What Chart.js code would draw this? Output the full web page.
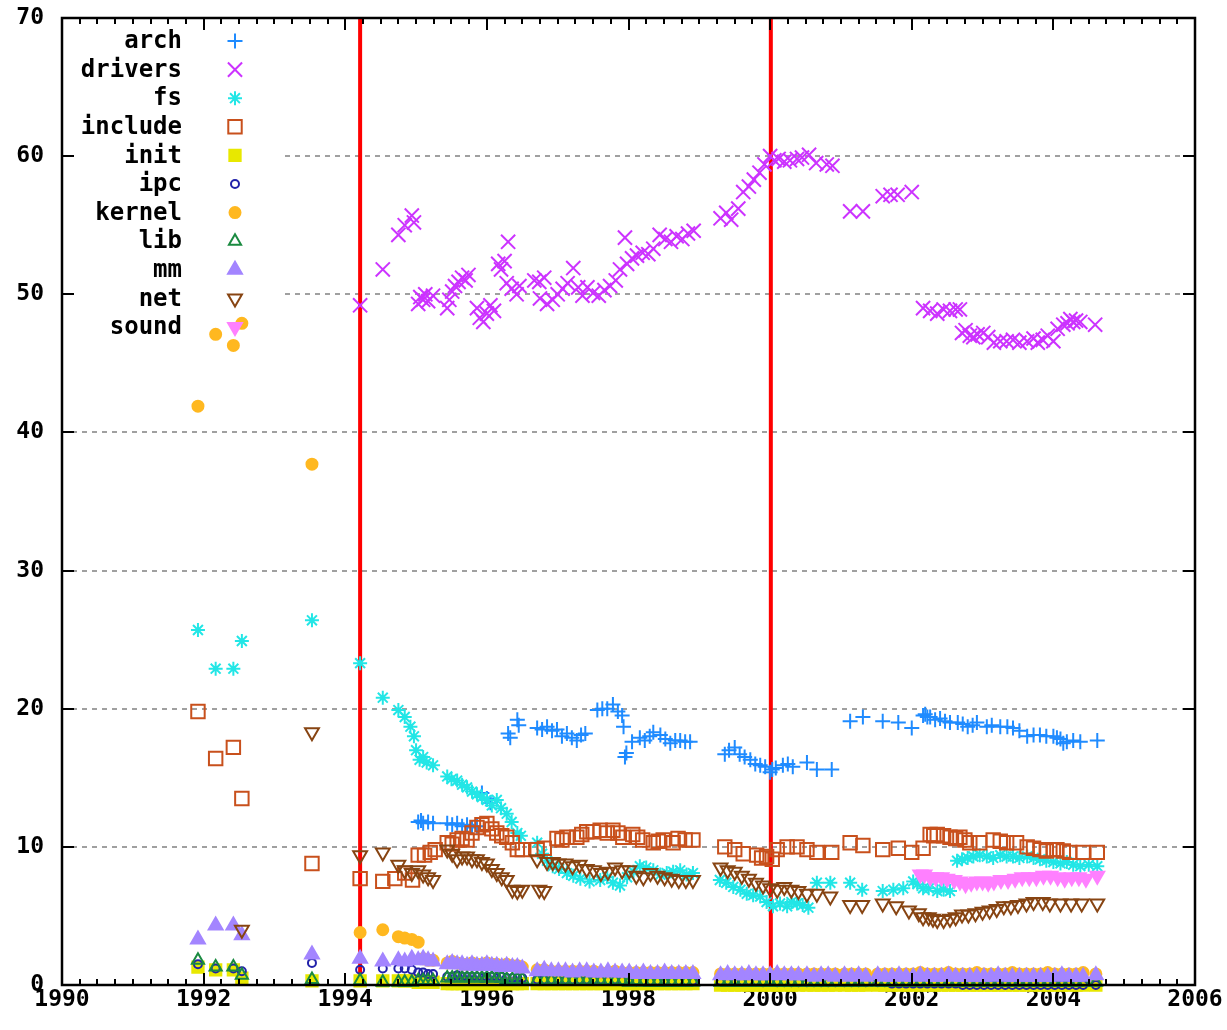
<!DOCTYPE html>
<html>
<head>
<meta charset="utf-8">
<script src="https://cdn.jsdelivr.net/npm/chart.js@4.4.1/dist/chart.umd.min.js"></script>
<style>
html, body { margin: 0; padding: 0; background: #fff; }
</style>
</head>
<body>
<canvas id="linuxChart" width="1227" height="1030"></canvas>
<script>
// release dates shared by the small directories
var baseDates = [
  1991.92, 1992.17, 1992.42, 1992.54, 1993.53,
  1994.21, 1994.53, 1994.75, 1994.84, 1994.94, 1995.03, 1995.10, 1995.17, 1995.24,
  1995.44, 1995.51, 1995.58, 1995.65, 1995.72, 1995.79, 1995.86, 1995.93, 1996.00, 1996.07, 1996.14, 1996.21, 1996.28, 1996.36, 1996.43, 1996.50,
  1996.71, 1996.81, 1996.91, 1997.01, 1997.11, 1997.21, 1997.31, 1997.41, 1997.51, 1997.61, 1997.71, 1997.81, 1997.91, 1998.01, 1998.11, 1998.21, 1998.31, 1998.41, 1998.51, 1998.61, 1998.71, 1998.81, 1998.91,
  1999.30, 1999.40, 1999.50, 1999.60, 1999.70, 1999.80, 1999.90, 2000.00, 2000.10, 2000.20, 2000.30, 2000.40, 2000.52, 2000.62, 2000.72, 2000.82, 2000.92,
  2001.05, 2001.15, 2001.25, 2001.35, 2001.52, 2001.62, 2001.72, 2001.82, 2001.92,
  2002.02, 2002.12, 2002.22, 2002.32, 2002.42, 2002.52, 2002.62, 2002.72, 2002.82, 2002.92, 2003.02, 2003.12, 2003.22, 2003.32, 2003.42, 2003.52, 2003.62, 2003.72, 2003.82, 2003.92, 2004.02, 2004.12, 2004.22, 2004.32, 2004.42, 2004.60
];

var initVals = [
  1.3, 1.1, 1.1, 0.5, 0.3,
  0.3, 0.3, 0.3, 0.3, 0.3, 0.2, 0.2, 0.2, 0.2,
  0.1, 0.1, 0.1, 0.1, 0.1, 0.1, 0.1, 0.1, 0.1, 0.1, 0.1, 0.1, 0.1, 0.1, 0.1, 0.1,
  0.1, 0.1, 0.1, 0.1, 0.1, 0.1, 0.1, 0.1, 0.1, 0.1, 0.1, 0.1, 0.1, 0.1, 0.1, 0.1, 0.1, 0.1, 0.1, 0.1, 0.1, 0.1, 0.1,
  0.0, 0.0, 0.0, 0.0, 0.0, 0.0, 0.0, 0.0, 0.0, 0.0, 0.0, 0.0, 0.0, 0.0, 0.0, 0.0, 0.0,
  0.0, 0.0, 0.0, 0.0, 0.0, 0.0, 0.0, 0.0, 0.0,
  0.0, 0.0, 0.0, 0.0, 0.0, 0.0, 0.0, 0.0, 0.0, 0.0, 0.0, 0.0, 0.0, 0.0, 0.0, 0.0, 0.0, 0.0, 0.0, 0.0, 0.0, 0.0, 0.0, 0.0, 0.0, 0.0
];
var ipcVals = [
  1.5, 1.2, 1.2, 1.0, 1.6,
  1.1, 1.2, 1.2, 1.2, 1.1, 0.9, 0.9, 0.8, 0.8,
  0.6, 0.6, 0.7, 0.6, 0.6, 0.6, 0.6, 0.5, 0.6, 0.6, 0.5, 0.6, 0.5, 0.5, 0.5, 0.5,
  0.4, 0.4, 0.4, 0.4, 0.4, 0.4, 0.4, 0.4, 0.4, 0.4, 0.3, 0.4, 0.3, 0.3, 0.3, 0.3, 0.3, 0.3, 0.3, 0.3, 0.3, 0.3, 0.3,
  0.3, 0.3, 0.3, 0.3, 0.3, 0.3, 0.2, 0.3, 0.2, 0.2, 0.2, 0.2, 0.2, 0.2, 0.2, 0.2, 0.2,
  0.2, 0.2, 0.2, 0.2, 0.2, 0.2, 0.1, 0.1, 0.1,
  0.1, 0.1, 0.1, 0.1, 0.1, 0.1, 0.1, 0.0, 0.0, 0.0, 0.0, 0.0, 0.0, 0.0, 0.0, 0.0, 0.0, 0.0, 0.0, 0.0, 0.0, 0.0, 0.0, 0.0, 0.0, 0.0
];
var kernelVals = [
  41.9, 47.1, 46.3, 47.9, 37.7,
  3.8, 4.0, 3.5, 3.4, 3.3, 3.1, 1.9, 1.8, 1.8,
  1.6, 1.7, 1.6, 1.5, 1.5, 1.6, 1.5, 1.5, 1.6, 1.5, 1.5, 1.4, 1.5, 1.4, 1.4, 1.3,
  1.1, 1.1, 1.0, 1.0, 1.0, 1.0, 1.0, 1.0, 1.0, 0.9, 0.9, 1.0, 0.9, 0.9, 0.9, 0.9, 0.9, 0.9, 0.9, 0.9, 0.9, 0.9, 0.9,
  0.8, 0.8, 0.8, 0.8, 0.8, 0.8, 0.8, 0.8, 0.8, 0.8, 0.8, 0.8, 0.8, 0.8, 0.8, 0.8, 0.8,
  0.8, 0.8, 0.8, 0.8, 0.8, 0.8, 0.8, 0.8, 0.8,
  0.8, 0.9, 0.8, 0.8, 0.8, 0.9, 0.8, 0.8, 0.8, 0.9, 0.8, 0.8, 0.8, 0.8, 0.9, 0.8, 0.8, 0.8, 0.8, 0.9, 0.8, 0.8, 0.8, 0.8, 0.9, 0.8
];
var libVals = [
  1.8, 1.3, 1.3, 0.7, 0.4,
  0.3, 0.2, 0.2, 0.2, 0.2, 0.3, 0.3, 0.3, 0.3,
  0.5, 0.5, 0.5, 0.5, 0.5, 0.5, 0.5, 0.5, 0.5, 0.5, 0.5, 0.5, 0.4, 0.4, 0.4, 0.4,
  0.3, 0.3, 0.3, 0.3, 0.3, 0.3, 0.3, 0.3, 0.3, 0.3, 0.3, 0.3, 0.3, 0.2, 0.3, 0.2, 0.2, 0.2, 0.2, 0.2, 0.2, 0.2, 0.2,
  0.2, 0.2, 0.2, 0.2, 0.2, 0.2, 0.2, 0.2, 0.2, 0.2, 0.2, 0.2, 0.2, 0.2, 0.2, 0.2, 0.2,
  0.2, 0.2, 0.2, 0.2, 0.2, 0.2, 0.2, 0.2, 0.2,
  0.2, 0.2, 0.2, 0.2, 0.2, 0.2, 0.2, 0.2, 0.2, 0.2, 0.2, 0.2, 0.2, 0.2, 0.2, 0.2, 0.2, 0.2, 0.2, 0.2, 0.2, 0.2, 0.2, 0.2, 0.2, 0.2
];
var mmVals = [
  3.3, 4.3, 4.3, 3.6, 2.2,
  1.9, 1.7, 1.8, 1.7, 1.9, 1.8, 1.9, 1.8, 1.7,
  1.5, 1.6, 1.5, 1.5, 1.4, 1.5, 1.4, 1.4, 1.5, 1.4, 1.4, 1.3, 1.4, 1.3, 1.3, 1.2,
  1.0, 1.1, 1.0, 1.0, 1.0, 0.9, 1.0, 1.0, 0.9, 0.9, 1.0, 0.9, 0.9, 0.9, 0.8, 0.9, 0.8, 0.8, 0.9, 0.8, 0.8, 0.8, 0.8,
  0.7, 0.8, 0.7, 0.7, 0.8, 0.7, 0.7, 0.7, 0.8, 0.7, 0.7, 0.7, 0.7, 0.6, 0.7, 0.7, 0.6,
  0.7, 0.6, 0.7, 0.6, 0.7, 0.6, 0.6, 0.7, 0.6,
  0.6, 0.7, 0.6, 0.6, 0.6, 0.7, 0.6, 0.6, 0.6, 0.6, 0.6, 0.6, 0.7, 0.6, 0.6, 0.6, 0.6, 0.6, 0.6, 0.6, 0.6, 0.7, 0.6, 0.6, 0.6, 0.7
];

// [year, percent] for the big directories
var archPts = [
  [1995.03,11.8],[1995.07,11.9],[1995.10,11.7],[1995.17,11.8],[1995.24,11.7],
  [1995.44,11.7],[1995.51,11.6],[1995.58,11.7],[1995.65,11.5],[1995.72,11.6],[1995.79,11.4],[1995.86,11.5],[1995.93,13.9],[1996.00,13.5],[1996.05,13.2],
  [1996.30,18.2],[1996.33,17.9],[1996.43,19.2],[1996.45,18.8],
  [1996.71,18.6],[1996.78,18.5],[1996.85,18.7],[1996.92,18.4],[1996.99,18.5],[1997.06,18.0],[1997.13,18.2],[1997.20,17.9],[1997.27,17.7],[1997.33,18.1],[1997.39,18.2],
  [1997.56,19.9],[1997.63,20.0],[1997.70,20.0],[1997.78,20.3],[1997.85,19.8],[1997.91,19.5],[1997.93,18.7],[1997.95,16.5],[1997.97,16.8],[1998.05,17.6],[1998.16,17.9],[1998.23,17.7],[1998.30,18.0],[1998.35,18.3],[1998.45,18.1],[1998.52,17.8],[1998.59,17.5],[1998.66,17.7],[1998.73,17.7],[1998.80,17.6],[1998.87,17.6],
  [1999.36,16.7],[1999.42,17.0],[1999.50,17.2],[1999.57,16.7],[1999.64,16.5],[1999.72,16.3],[1999.79,16.0],[1999.86,15.9],[1999.93,15.8],[2000.00,15.4],[2000.03,15.6],[2000.08,15.7],[2000.18,15.9],[2000.25,16.0],[2000.32,15.8],[2000.52,16.1],[2000.66,15.6],[2000.87,15.6],
  [2001.13,19.1],[2001.31,19.4],[2001.59,19.1],[2001.81,19.0],[2002.00,18.6],
  [2002.16,19.5],[2002.19,19.6],[2002.22,19.4],[2002.26,19.4],[2002.33,19.2],[2002.40,19.3],[2002.47,19.1],[2002.54,19.0],[2002.65,19.0],[2002.72,18.9],[2002.79,18.7],[2002.86,18.8],[2002.92,19.0],[2003.06,18.7],[2003.13,18.8],[2003.25,18.7],[2003.35,18.7],[2003.43,18.6],[2003.52,18.4],[2003.63,18.0],[2003.72,18.1],[2003.81,18.1],[2003.90,18.0],[2004.00,18.0],[2004.05,17.9],[2004.10,17.8],[2004.14,17.5],[2004.19,17.6],[2004.28,17.7],[2004.38,17.6],[2004.62,17.7]
];
var driversPts = [
  [1994.21,49.2],[1994.53,51.8],[1994.75,54.3],[1994.84,55.0],[1994.94,55.7],[1994.97,55.2],
  [1995.03,49.3],[1995.06,49.8],[1995.10,49.6],[1995.13,50.0],[1995.17,49.5],[1995.24,49.9],
  [1995.44,49.0],[1995.47,49.6],[1995.51,50.2],[1995.55,50.6],[1995.60,50.9],[1995.65,51.2],[1995.70,51.0],[1995.74,51.4],
  [1995.86,49.0],[1995.90,48.3],[1995.95,48.0],[1996.00,48.6],[1996.05,49.2],[1996.10,48.8],
  [1996.16,52.2],[1996.20,51.8],[1996.25,52.4],[1996.30,53.8],[1996.28,50.8],[1996.35,50.4],[1996.42,50.0],[1996.46,50.6],
  [1996.67,51.0],[1996.74,50.9],[1996.81,51.2],[1996.75,49.7],[1996.85,49.3],[1996.93,49.6],
  [1997.00,50.0],[1997.07,50.4],[1997.14,50.8],[1997.22,51.9],[1997.29,50.5],[1997.35,49.9],[1997.42,50.5],[1997.50,50.1],[1997.58,49.9],[1997.66,50.3],[1997.74,50.6],[1997.82,51.0],[1997.88,51.8],[1997.95,54.1],[1997.98,52.2],[1998.05,52.6],[1998.12,52.8],[1998.20,53.0],[1998.28,52.9],[1998.35,53.3],[1998.44,54.3],[1998.52,54.0],[1998.60,53.8],[1998.68,54.2],[1998.76,54.0],[1998.84,54.4],[1998.92,54.6],
  [1999.30,55.5],[1999.38,55.9],[1999.45,55.4],[1999.55,56.2],[1999.62,57.4],[1999.70,57.8],[1999.77,58.3],[1999.85,58.8],[1999.92,59.4],[2000.00,60.0],[2000.06,59.7],[2000.12,59.8],[2000.20,59.6],[2000.28,59.7],[2000.38,59.8],[2000.45,59.9],[2000.55,60.1],[2000.65,59.5],[2000.80,59.4],[2000.88,59.3],
  [2001.13,56.0],[2001.31,56.0],[2001.59,57.1],[2001.70,57.2],[2001.80,57.2],[2002.00,57.4],
  [2002.16,49.0],[2002.26,48.8],[2002.36,48.6],[2002.45,48.9],[2002.54,48.8],[2002.62,48.9],[2002.68,48.9],
  [2002.71,47.2],[2002.76,47.4],[2002.82,47.0],[2002.87,46.9],[2002.93,47.1],[2003.01,47.2],[2003.08,46.9],[2003.16,46.5],[2003.25,46.6],[2003.34,46.6],[2003.43,46.7],[2003.52,46.5],[2003.63,46.6],[2003.72,46.8],[2003.78,46.5],[2003.85,46.7],[2003.92,47.0],[2004.00,46.6],[2004.06,47.5],[2004.14,47.8],[2004.20,47.9],[2004.24,48.2],[2004.28,48.0],[2004.32,48.1],[2004.38,48.0],[2004.59,47.8]
];
var fsPts = [
  [1991.92,25.7],[1992.17,22.9],[1992.42,22.9],[1992.54,24.9],[1993.53,26.4],[1994.21,23.3],[1994.53,20.8],[1994.75,19.9],[1994.84,19.4],[1994.92,18.7],[1994.97,18.0],[1995.00,17.0],[1995.05,16.3],[1995.10,16.5],[1995.15,16.1],[1995.24,15.9],
  [1995.44,15.1],[1995.50,14.9],[1995.58,14.8],[1995.65,14.5],[1995.72,14.3],[1995.79,14.0],[1995.86,13.8],[1995.93,13.6],[1996.00,13.4],[1996.07,13.0],[1996.14,13.4],[1996.20,12.8],[1996.28,12.4],[1996.35,11.8],[1996.43,11.0],[1996.48,10.8],
  [1996.71,10.3],[1996.78,9.5],[1996.85,9.0],[1996.93,8.6],[1997.02,8.4],[1997.13,8.1],[1997.22,7.9],[1997.32,7.7],[1997.45,7.5],[1997.60,7.6],[1997.70,7.8],[1997.78,7.4],[1997.88,7.2],[1997.98,7.8],[1998.07,8.2],[1998.16,8.6],[1998.25,8.5],[1998.35,8.3],[1998.45,8.0],[1998.54,8.1],[1998.63,8.2],[1998.73,8.3],[1998.82,8.0],[1998.91,8.1],
  [1999.29,7.6],[1999.38,7.4],[1999.48,7.1],[1999.58,6.9],[1999.67,6.6],[1999.76,6.5],[1999.86,6.4],[1999.95,6.0],[2000.04,5.7],[2000.14,5.9],[2000.24,5.7],[2000.30,6.0],[2000.38,5.9],[2000.46,5.8],[2000.54,5.6],
  [2000.66,7.4],[2000.85,7.4],[2001.13,7.4],[2001.30,6.9],[2001.59,6.8],[2001.74,6.9],[2001.88,7.0],[2002.02,7.5],[2002.08,7.3],[2002.16,7.0],[2002.24,7.0],[2002.36,6.8],[2002.45,6.9],[2002.54,6.8],
  [2002.64,9.0],[2002.71,9.1],[2002.79,9.2],[2002.87,9.3],[2002.96,9.4],[2003.06,9.3],[2003.15,9.2],[2003.25,9.4],[2003.34,9.3],[2003.43,9.3],[2003.52,9.2],[2003.63,9.3],[2003.72,9.2],[2003.81,9.1],[2003.90,9.0],[2004.00,8.9],[2004.10,8.8],[2004.19,8.9],[2004.28,8.7],[2004.38,8.6],[2004.50,8.7],[2004.62,8.6]
];
var includePts = [
  [1991.92,19.8],[1992.17,16.4],[1992.42,17.2],[1992.54,13.5],[1993.53,8.8],[1994.21,7.7],[1994.53,7.5],[1994.70,7.7],[1994.84,8.1],[1994.95,7.6],[1995.03,9.4],[1995.12,9.4],[1995.20,9.6],[1995.27,9.8],
  [1995.44,10.3],[1995.51,10.2],[1995.58,10.5],[1995.65,10.6],[1995.72,10.5],[1995.79,11.0],[1995.86,11.4],[1995.93,11.6],[1996.00,11.7],[1996.07,11.3],[1996.14,11.0],[1996.21,10.8],[1996.28,10.7],[1996.36,10.3],[1996.43,9.8],[1996.50,9.8],
  [1996.71,9.8],[1996.81,9.9],[1996.99,10.6],[1997.06,10.5],[1997.13,10.7],[1997.27,10.7],[1997.34,10.9],[1997.41,11.1],[1997.50,11.1],[1997.60,11.2],[1997.70,11.0],[1997.78,11.2],[1997.85,11.0],[1997.92,10.7],[1998.06,10.9],[1998.13,10.7],[1998.20,10.5],[1998.35,10.3],[1998.42,10.4],[1998.49,10.5],[1998.63,10.3],[1998.70,10.6],[1998.80,10.5],[1998.91,10.5],
  [1999.36,10.0],[1999.50,9.8],[1999.62,9.5],[1999.81,9.4],[1999.88,9.2],[1999.95,9.3],[2000.03,9.1],[2000.10,9.8],[2000.24,10.0],[2000.38,10.0],[2000.52,9.8],[2000.66,9.6],[2000.87,9.6],
  [2001.13,10.3],[2001.31,10.1],[2001.59,9.8],[2001.81,9.9],[2002.00,9.6],[2002.16,9.9],[2002.26,10.9],[2002.31,10.8],[2002.36,10.9],[2002.45,10.8],[2002.54,10.7],[2002.62,10.6],[2002.68,10.7],[2002.75,10.5],[2002.82,10.3],[2002.96,10.3],[2003.15,10.5],[2003.25,10.4],[2003.34,10.3],[2003.48,10.3],[2003.63,10.0],[2003.72,9.9],[2003.81,9.8],[2003.90,9.7],[2004.00,9.8],[2004.05,9.8],[2004.14,9.7],[2004.23,9.6],[2004.42,9.6],[2004.62,9.6]
];
var netPts = [
  [1992.54,4.0],[1993.53,18.3],[1994.21,9.4],[1994.53,9.6],[1994.75,8.7],[1994.84,8.3],[1994.94,8.1],[1995.03,8.3],[1995.10,8.0],[1995.17,7.8],[1995.24,7.6],
  [1995.44,9.8],[1995.51,9.5],[1995.58,9.1],[1995.65,9.3],[1995.72,9.3],[1995.79,9.1],[1995.86,9.1],[1995.93,8.9],[1996.00,8.8],[1996.07,8.4],[1996.14,8.1],[1996.21,7.8],[1996.28,7.6],[1996.36,6.9],[1996.43,6.8],[1996.50,6.9],
  [1996.71,9.1],[1996.74,6.9],[1996.81,6.8],[1996.85,8.9],[1996.93,8.9],[1997.01,8.8],[1997.11,8.8],[1997.21,8.6],[1997.31,8.7],[1997.41,8.4],[1997.51,8.3],[1997.61,8.1],[1997.71,8.2],[1997.81,8.5],[1997.91,8.3],[1998.01,8.3],[1998.11,7.9],[1998.21,7.8],[1998.31,8.1],[1998.41,7.9],[1998.51,7.8],[1998.61,7.7],[1998.71,7.6],[1998.81,7.6],[1998.91,7.6],
  [1999.30,8.5],[1999.40,8.3],[1999.50,8.2],[1999.60,7.9],[1999.70,7.7],[1999.80,7.4],[1999.90,7.2],[2000.00,7.0],[2000.10,6.9],[2000.20,7.1],[2000.30,6.9],[2000.40,6.8],[2000.52,6.6],[2000.66,6.6],[2000.85,6.4],
  [2001.13,5.8],[2001.30,5.8],[2001.59,5.9],[2001.78,5.7],[2001.96,5.4],
  [2002.10,5.2],[2002.16,4.9],[2002.24,4.9],[2002.30,4.8],[2002.36,4.7],[2002.45,4.7],[2002.54,4.8],[2002.62,4.9],[2002.71,5.1],[2002.80,5.1],[2002.90,5.2],[2003.00,5.3],[2003.10,5.4],[2003.20,5.5],[2003.30,5.7],[2003.40,5.7],[2003.50,5.8],[2003.62,5.9],[2003.72,6.0],[2003.85,6.0],[2003.95,5.9],[2004.10,5.9],[2004.25,5.9],[2004.40,5.9],[2004.62,5.9]
];
var soundPts = [
  [2002.12,8.0],[2002.18,8.0],[2002.26,7.8],[2002.34,7.8],[2002.42,7.8],[2002.50,7.7],[2002.60,7.6],[2002.68,7.5],[2002.76,7.3],[2002.84,7.4],[2002.92,7.5],[2003.00,7.5],[2003.08,7.4],[2003.16,7.5],[2003.26,7.6],[2003.36,7.6],[2003.46,7.7],[2003.56,7.8],[2003.66,7.8],[2003.76,7.8],[2003.86,7.9],[2003.96,7.9],[2004.06,7.8],[2004.16,7.7],[2004.26,7.8],[2004.36,7.8],[2004.46,7.7],[2004.62,7.9]
];

// release markers (1.0 and 2.4)
var markerYears = [1994.21, 2000.01];

var monoFont = "'DejaVu Sans Mono', 'Liberation Mono', monospace";

function pairs(pts) {
  return pts.map(p => ({ x: p[0], y: p[1] }));
}
function onBase(vals) {
  return baseDates.map((d, i) => ({ x: d, y: vals[i] }));
}

// name, points, style, fill, line colour, radius, rotation
var seriesDefs = [
  ['arch', pairs(archPts), 'cross', 'rgba(0,0,0,0)', '#1f8bff', 7.5, 0],
  ['drivers', pairs(driversPts), 'crossRot', 'rgba(0,0,0,0)', '#cc33ff', 10, 0],
  ['fs', pairs(fsPts), 'star', 'rgba(0,0,0,0)', '#22e6e6', 7, 0],
  ['include', pairs(includePts), 'rect', 'rgba(0,0,0,0)', '#c8501c', 9.5, 0],
  ['init', onBase(initVals), 'rect', '#e8e800', '#e8e800', 8, 0],
  ['ipc', onBase(ipcVals), 'circle', 'rgba(0,0,0,0)', '#2222aa', 4, 0],
  ['kernel', onBase(kernelVals), 'circle', '#ffb820', '#ffb820', 5.5, 0],
  ['lib', onBase(libVals), 'triangle', 'rgba(0,0,0,0)', '#1a8a40', 7, 0],
  ['mm', onBase(mmVals), 'triangle', '#a385ff', '#a385ff', 8, 0],
  ['net', pairs(netPts), 'triangle', 'rgba(0,0,0,0)', '#874412', 8, 180],
  ['sound', pairs(soundPts), 'triangle', '#ff80ff', '#ff80ff', 8, 180]
];

var datasets = seriesDefs.map((s, i) => ({
  label: s[0],
  data: s[1],
  pointStyle: s[2],
  pointBackgroundColor: s[3],
  pointBorderColor: s[4],
  backgroundColor: s[3],
  borderColor: s[4],
  pointRadius: s[5],
  pointRotation: s[6],
  pointBorderWidth: 2,
  order: seriesDefs.length - i,
  clip: false
}));

markerYears.forEach(yr => {
  datasets.push({
    type: 'line',
    label: '',
    isMarker: true,
    data: [{ x: yr, y: 0 }, { x: yr, y: 70 }],
    borderColor: '#ff0000',
    borderWidth: 4,
    pointRadius: 0,
    showLine: true,
    order: 50
  });
});

var legendRight = 182;
var legendSym = 235;
var legendTop = 41;
var legendStep = 28.6;

var gnuplotLook = {
  id: 'gnuplotLook',
  beforeDatasetsDraw(chart) {
    var ctx = chart.ctx, a = chart.chartArea, ys = chart.scales.y;
    var boxBottom = legendTop + legendStep * (seriesDefs.length - 1) + 16;
    ctx.save();
    ctx.strokeStyle = '#a0a0a0';
    ctx.lineWidth = 2;
    ctx.setLineDash([5, 5]);
    ys.ticks.forEach(t => {
      if (t.value <= ys.min || t.value >= ys.max) return;
      var y = Math.round(ys.getPixelForValue(t.value));
      var x0 = y < boxBottom ? legendSym + 50 : a.left;
      ctx.beginPath();
      ctx.moveTo(x0, y);
      ctx.lineTo(a.right, y);
      ctx.stroke();
    });
    ctx.restore();
  },
  afterDatasetsDraw(chart) {
    var ctx = chart.ctx;
    ctx.save();
    ctx.font = 'bold 24px ' + monoFont;
    ctx.textAlign = 'right';
    ctx.textBaseline = 'middle';
    chart.data.datasets.forEach((ds, i) => {
      if (ds.isMarker) return;
      var y = legendTop + legendStep * i;
      ctx.fillStyle = '#000';
      ctx.fillText(ds.label, legendRight, y + 1);
      ctx.fillStyle = ds.pointBackgroundColor;
      ctx.strokeStyle = ds.pointBorderColor;
      ctx.lineWidth = ds.pointBorderWidth;
      Chart.helpers.drawPoint(ctx, {
        pointStyle: ds.pointStyle,
        radius: ds.pointRadius,
        rotation: ds.pointRotation,
        borderWidth: ds.pointBorderWidth
      }, legendSym, y);
    });
    ctx.restore();
  },
  afterDraw(chart) {
    var ctx = chart.ctx, a = chart.chartArea, xs = chart.scales.x, ys = chart.scales.y;
    ctx.save();
    ctx.strokeStyle = '#000';
    ctx.lineWidth = 2;
    ctx.beginPath();
    // minor x ticks every quarter year, major on labelled ticks
    for (var v = xs.min; v <= xs.max + 1e-6; v += 0.25) {
      var x = Math.round(xs.getPixelForValue(v));
      var len = Math.abs((v - xs.min) % 2) < 1e-6 ? 12 : 6;
      ctx.moveTo(x, a.bottom); ctx.lineTo(x, a.bottom - len);
      ctx.moveTo(x, a.top); ctx.lineTo(x, a.top + len);
    }
    ys.ticks.forEach(t => {
      var y = Math.round(ys.getPixelForValue(t.value));
      ctx.moveTo(a.left, y); ctx.lineTo(a.left + 12, y);
      ctx.moveTo(a.right, y); ctx.lineTo(a.right - 12, y);
    });
    ctx.stroke();
    ctx.lineWidth = 2.5;
    ctx.strokeRect(a.left, a.top, a.right - a.left, a.bottom - a.top);
    ctx.restore();
  }
};

var tickFont = { family: monoFont, size: 23, weight: 'bold' };

new Chart(document.getElementById('linuxChart'), {
  type: 'scatter',
  data: { datasets: datasets },
  options: {
    responsive: false,
    animation: false,
    events: [],
    layout: { padding: { left: 0, right: 32, top: 18, bottom: 0 } },
    plugins: { legend: { display: false }, tooltip: { enabled: false } },
    scales: {
      x: {
        type: 'linear', min: 1990, max: 2006,
        grid: { display: false, drawTicks: false },
        border: { display: false },
        ticks: { stepSize: 2, color: '#000', font: tickFont, padding: 1, maxRotation: 0, autoSkip: false,
                 callback: v => String(v) },
        afterFit: s => { s.height = 45; s.paddingLeft = 0; s.paddingRight = 0; }
      },
      y: {
        min: 0, max: 70,
        grid: { display: false, drawTicks: false },
        border: { display: false },
        ticks: { stepSize: 10, color: '#000', font: tickFont, padding: 18 },
        afterFit: s => { s.width = 62; s.paddingTop = 0; s.paddingBottom = 0; }
      }
    }
  },
  plugins: [gnuplotLook]
});
</script>
</body>
</html>
